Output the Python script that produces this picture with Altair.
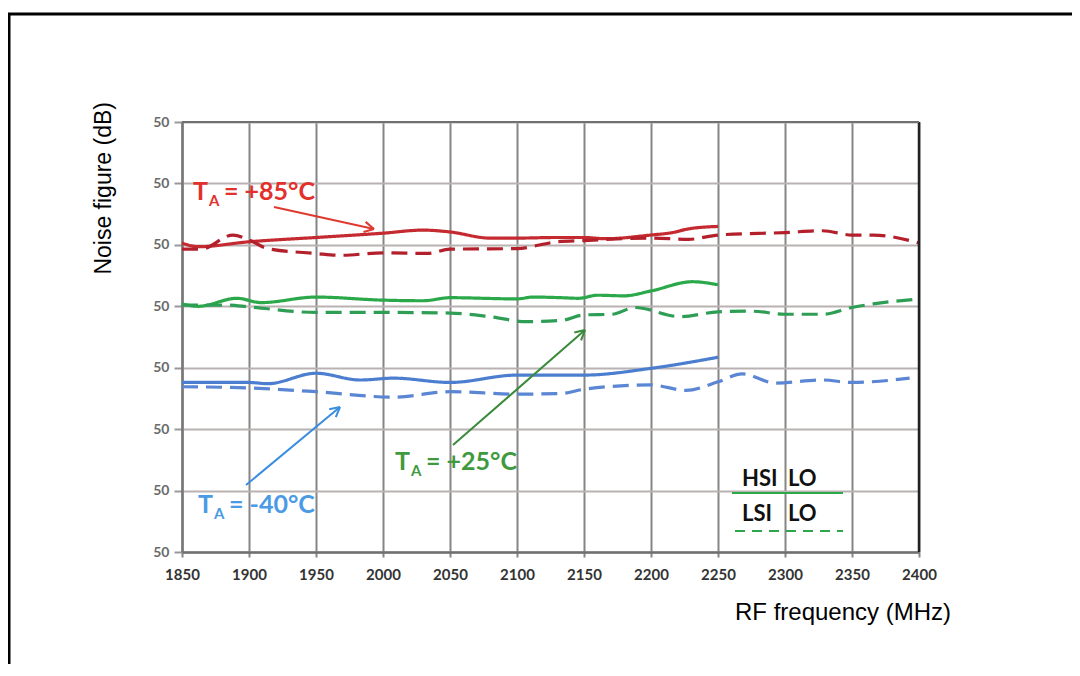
import math
import altair as alt
import pandas as pd

# ---------------- data ----------------
x_ticks = [1850, 1900, 1950, 2000, 2050, 2100, 2150, 2200, 2250, 2300, 2350, 2400]
y_ticks = [0, 1, 2, 3, 4, 5, 6, 7]
y_tick_labels = ["50", "50", "50", "50", "50", "50", "50", "50"]

red_hsi_f = [1850, 1862, 1900, 1950, 2000, 2030, 2050, 2080, 2100, 2130, 2150, 2166, 2200, 2216, 2228, 2250]
red_hsi_v = [5.03, 4.97, 5.05, 5.12, 5.19, 5.24, 5.21, 5.11, 5.11, 5.12, 5.12, 5.10, 5.16, 5.20, 5.26, 5.30]

red_lsi_f = [1850, 1864, 1888, 1900, 1914, 1950, 1968, 2000, 2033, 2050, 2100, 2130, 2150, 2200, 2228, 2250, 2300, 2328, 2350, 2366, 2400]
red_lsi_v = [4.93, 4.93, 5.16, 5.08, 4.94, 4.86, 4.83, 4.87, 4.86, 4.93, 4.94, 5.05, 5.07, 5.11, 5.09, 5.16, 5.20, 5.23, 5.16, 5.16, 5.03]

green_hsi_f = [1850, 1862, 1891, 1909, 1950, 2000, 2030, 2050, 2100, 2112, 2133, 2146, 2160, 2180, 2200, 2231, 2250]
green_hsi_v = [4.04, 4.00, 4.13, 4.06, 4.15, 4.10, 4.09, 4.14, 4.12, 4.15, 4.14, 4.13, 4.18, 4.17, 4.25, 4.40, 4.35]

green_lsi_f = [1850, 1884, 1900, 1950, 2000, 2050, 2080, 2107, 2133, 2150, 2171, 2188, 2222, 2250, 2275, 2300, 2328, 2350, 2366, 2396]
green_lsi_v = [4.02, 4.02, 3.99, 3.90, 3.90, 3.89, 3.83, 3.75, 3.77, 3.86, 3.87, 3.98, 3.83, 3.91, 3.92, 3.87, 3.87, 3.98, 4.04, 4.11]

blue_hsi_f = [1850, 1900, 1914, 1950, 1983, 2008, 2050, 2100, 2150, 2200, 2250]
blue_hsi_v = [2.76, 2.76, 2.74, 2.91, 2.80, 2.83, 2.76, 2.88, 2.88, 2.99, 3.17]

blue_lsi_f = [1850, 1900, 1950, 2008, 2050, 2100, 2133, 2150, 2200, 2226, 2250, 2268, 2293, 2328, 2350, 2393]
blue_lsi_v = [2.69, 2.67, 2.61, 2.52, 2.61, 2.57, 2.58, 2.65, 2.72, 2.63, 2.77, 2.90, 2.75, 2.80, 2.76, 2.83]

series_names = ["red_hsi", "red_lsi", "green_hsi", "green_lsi", "blue_hsi", "blue_lsi"]
series_colors = ["#c42a2f", "#b3202b", "#2aa84a", "#2f9e55", "#4c7ed0", "#5a86d4"]

W, H = 737, 430

rows = []
for name, fs, vs, style in [
    ("red_hsi", red_hsi_f, red_hsi_v, "HSI LO"),
    ("red_lsi", red_lsi_f, red_lsi_v, "LSI LO"),
    ("green_hsi", green_hsi_f, green_hsi_v, "HSI LO"),
    ("green_lsi", green_lsi_f, green_lsi_v, "LSI LO"),
    ("blue_hsi", blue_hsi_f, blue_hsi_v, "HSI LO"),
    ("blue_lsi", blue_lsi_f, blue_lsi_v, "LSI LO"),
]:
    for f, v in zip(fs, vs):
        rows.append({"freq": f, "nf": v, "series": name, "style": style})
df = pd.DataFrame(rows)

label_expr = "[" + ",".join("'%s'" % s for s in y_tick_labels) + "][datum.value]"

lines = alt.Chart(df).mark_line(strokeWidth=3.2, interpolate="monotone").encode(
    x=alt.X("freq:Q",
            scale=alt.Scale(domain=[1850, 2400], nice=False, zero=False),
            axis=alt.Axis(values=x_ticks, title=None, format="d", labelFlush=False,
                          labelFont="Lato", labelFontWeight="bold", labelFontSize=15,
                          labelColor="#333333", labelPadding=10,
                          grid=True, gridColor="#858585", gridWidth=2,
                          domainColor="#707070", domainWidth=2.5,
                          tickColor="#858585", tickSize=5, tickWidth=2)),
    y=alt.Y("nf:Q",
            scale=alt.Scale(domain=[0, 7], nice=False, zero=False),
            axis=alt.Axis(values=y_ticks, title=None, labelExpr=label_expr, labelFlush=False,
                          labelFont="Lato", labelFontWeight="bold", labelFontSize=14,
                          labelColor="#6a6a6a", labelPadding=5,
                          grid=True, gridColor="#bab2b2", gridWidth=2,
                          domainColor="#777777", domainWidth=2.5,
                          tickColor="#999999", tickSize=8, tickWidth=2)),
    color=alt.Color("series:N", scale=alt.Scale(domain=series_names, range=series_colors), legend=None),
    strokeDash=alt.StrokeDash("style:N", scale=alt.Scale(domain=["HSI LO", "LSI LO"], range=[[1, 0], [16, 8]]), legend=None),
    detail="series:N",
)

# ---------------- annotations (pixel positions in the plot area) ----------------
arrows = [
    # x1, y1, x2, y2, colour
    (92, 85, 192, 107, "#e03a30"),
    (64, 363, 158, 285, "#3a8ee0"),
    (271, 323, 403, 208, "#3a8a3a"),
]
seg_rows = []
for x1, y1, x2, y2, c in arrows:
    seg_rows.append({"x": x1, "y": y1, "x2": x2, "y2": y2, "c": c})
    ang = math.atan2(y2 - y1, x2 - x1)
    for d in (math.radians(28), -math.radians(28)):
        a = ang + math.pi + d
        seg_rows.append({"x": x2, "y": y2, "x2": x2 + 11 * math.cos(a), "y2": y2 + 11 * math.sin(a), "c": c})
seg_df = pd.DataFrame(seg_rows)
arrow_layer = alt.Chart(seg_df).mark_rule(strokeWidth=2).encode(
    x=alt.X("x:Q", scale=None), y=alt.Y("y:Q", scale=None),
    x2="x2:Q", y2="y2:Q", color=alt.Color("c:N", scale=None),
)

ann_texts = [
    # x, y(baseline), text, size, colour
    (11, 78, "T", 25, "#e2312c"), (27, 84, "A", 15, "#e2312c"), (42, 78, "= +85°C", 25, "#e2312c"),
    (16, 391, "T", 25, "#4a9ae6"), (32, 397, "A", 15, "#4a9ae6"), (47, 391, "= -40°C", 25, "#4a9ae6"),
    (213, 348, "T", 25, "#3f9a3f"), (229, 354, "A", 15, "#3f9a3f"), (244, 348, "= +25°C", 25, "#3f9a3f"),
    (560, 364, "HSI", 22, "#111111"), (606, 364, "LO", 22, "#111111"),
    (560, 399, "LSI", 22, "#111111"), (606, 399, "LO", 22, "#111111"),
]
ann_df = pd.DataFrame(ann_texts, columns=["x", "y", "t", "s", "c"])
ann_layer = alt.Chart(ann_df).mark_text(align="left", baseline="alphabetic", font="Lato", fontWeight="bold").encode(
    x=alt.X("x:Q", scale=None), y=alt.Y("y:Q", scale=None), text="t:N",
    size=alt.Size("s:Q", scale=None), color=alt.Color("c:N", scale=None),
)

legend_solid = alt.Chart(pd.DataFrame({"a": [0]})).mark_rule(color="#2aa84a", strokeWidth=2).encode(
    x=alt.value(550), x2=alt.value(661), y=alt.value(371))
legend_dash = alt.Chart(pd.DataFrame({"a": [0]})).mark_rule(color="#2aa84a", strokeWidth=2, strokeDash=[10, 7]).encode(
    x=alt.value(553), x2=alt.value(661), y=alt.value(409))

right_border = alt.Chart(pd.DataFrame({"a": [0]})).mark_rule(color="#222222", strokeWidth=2.5).encode(
    x=alt.value(W), y=alt.value(0), y2=alt.value(H))
top_border = alt.Chart(pd.DataFrame({"a": [0]})).mark_rule(color="#707070", strokeWidth=2).encode(
    x=alt.value(0), x2=alt.value(W), y=alt.value(0))

titles = pd.DataFrame({"x": [553], "y": [498], "t": ["RF frequency (MHz)"]})
x_title = alt.Chart(titles).mark_text(align="left", baseline="alphabetic", font="Liberation Sans",
                                      fontSize=24, color="#000000").encode(
    x=alt.X("x:Q", scale=None), y=alt.Y("y:Q", scale=None), text="t:N")
y_title = alt.Chart(pd.DataFrame({"x": [-71], "y": [-20], "t": ["Noise figure (dB)"]})).mark_text(
    align="right", baseline="alphabetic", angle=270, font="Liberation Sans", fontSize=23, color="#000000").encode(
    x=alt.X("x:Q", scale=None), y=alt.Y("y:Q", scale=None), text="t:N")

frame_left = alt.Chart(pd.DataFrame({"a": [0]})).mark_rule(color="#000000", strokeWidth=3).encode(
    x=alt.value(-173), y=alt.value(-108), y2=alt.value(600))
frame_top = alt.Chart(pd.DataFrame({"a": [0]})).mark_rule(color="#000000", strokeWidth=3).encode(
    x=alt.value(-174), x2=alt.value(1000), y=alt.value(-108))

chart = alt.layer(
    lines, right_border, top_border, legend_solid, legend_dash, arrow_layer, ann_layer,
    x_title, y_title, frame_left, frame_top,
).properties(
    width=W, height=H,
    autosize=alt.AutoSizeParams(type="none"),
    padding={"left": 174, "top": 114, "right": 153, "bottom": 112},
).configure_view(stroke=None).configure(background="white")

chart.save("out.html", embed_options={"renderer": "svg", "actions": False})
